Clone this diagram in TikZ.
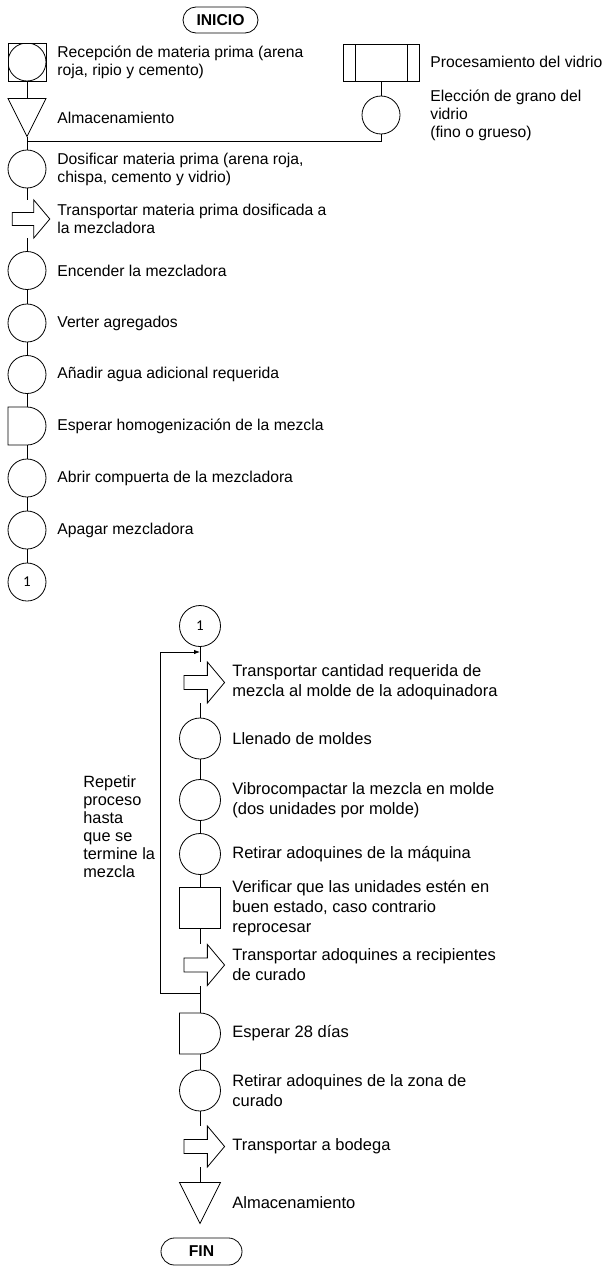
\documentclass[tikz,border=0pt]{standalone}
\usepackage{fontspec}
\setmainfont{Liberation Sans}
\newfontfamily\numfont{Carlito}
\usetikzlibrary{arrows.meta, positioning, shapes.misc}

\tikzset{
  sym/.style={inner sep=0pt, minimum width=2*\hs, minimum height=2*\hs},
  sym op/.style={circle, draw},
  sym ins/.style={rectangle, draw},
  sym opins/.style={rectangle, draw,
    path picture={\draw (path picture bounding box.center) circle[radius=\hs];}},
  sym alm/.style={append after command={\pgfextra{
    \draw[shift={(\tikzlastnode.center)}] (-\hs,-\hs) -- (\hs,-\hs) -- (0,\hs) -- cycle;}}},
  sym esp/.style={append after command={\pgfextra{
    \draw[shift={(\tikzlastnode.center)}] (-\hs,-\hs) -- (0,-\hs)
      arc[start angle=-90, end angle=90, radius=\hs] -- (-\hs,\hs) -- cycle;}}},
  sym tr/.style={append after command={\pgfextra{
    \draw[shift={(\tikzlastnode.center)}] ({-0.78*\hs},{-0.34*\hs}) -- ({0.36*\hs},{-0.34*\hs})
      -- ({0.36*\hs},-\hs) -- ({1.2*\hs},0) -- ({0.36*\hs},\hs) -- ({0.36*\hs},{0.34*\hs})
      -- ({-0.78*\hs},{0.34*\hs}) -- cycle;}}},
  barras/.style={rectangle, draw, inner sep=0pt,
    path picture={\draw ([xshift=12pt]path picture bounding box.north west) -- ([xshift=12pt]path picture bounding box.south west)
      ([xshift=-12pt]path picture bounding box.north east) -- ([xshift=-12pt]path picture bounding box.south east);}},
  txt/.style={anchor=west, align=left, inner sep=0pt},
  term/.style={rounded rectangle, draw, inner sep=0pt, font=\bfseries\fontsize{15.7}{18}\selectfont},
  num/.style={font=\numfont\fontsize{15}{16}\selectfont}
}

\begin{document}
\begin{tikzpicture}[x=1pt, y=-1pt, line width=0.8pt]
  \useasboundingbox (0,0) rectangle (603,1266);

  % primera parte
  \def\hs{19}
  \begin{scope}[font=\fontsize{15.7}{18}\selectfont]
    \node [term, minimum width=75, minimum height=26] (inicio) at (220.5,20) {INICIO};

    \foreach \y/\t/\txt [count=\i] in {
        62/opins/{Recepción de materia prima (arena\\roja, ripio y cemento)},
        117.5/alm/Almacenamiento,
        169/op/{Dosificar materia prima (arena roja,\\chispa, cemento y vidrio)},
        219/tr/{Transportar materia prima dosificada a\\la mezcladora},
        270.5/op/Encender la mezcladora,
        323/op/Verter agregados,
        374.5/op/Añadir agua adicional requerida,
        426/esp/Esperar homogenización de la mezcla,
        478/op/Abrir compuerta de la mezcladora,
        530/op/Apagar mezcladora}
    {
      \node [sym, sym \t/.try] (a-\i) at (27,\y) {};
      \node [txt] (ta-\i) at (57,\y) {\txt};
    }
    \node [sym, sym op, num] (a-11) at (27,582) {1};

    \foreach \i [count=\k from 2] in {1,...,10}
      \draw (a-\i) -- (a-\k);

    % vidrio
    \node [barras, minimum width=76, minimum height=37] (p-1) at (381,62.5) {};
    \node [sym, sym op] (p-2) at (381,115) {};
    \node [txt] (tp-1) at (430,62) {Procesamiento del vidrio};
    \node [txt] (tp-2) at (430,115.5) {Elección de grano del\\vidrio\\(fino o grueso)};
    \coordinate (junta) at (27,141);
    \draw (p-1) -- (p-2);
    \draw (p-2) |- (junta);
  \end{scope}

  % segunda parte
  \def\hs{20.5}
  \begin{scope}[font=\fontsize{16.5}{20}\selectfont]
    \node [sym, sym op, num] (b-1) at (200,626) {1};

    \foreach \y/\t/\txt [count=\i from 2] in {
        682.5/tr/{Transportar cantidad requerida de\\mezcla al molde de la adoquinadora},
        738.5/op/Llenado de moldes,
        800/op/{Vibrocompactar la mezcla en molde\\(dos unidades por molde)},
        854/op/Retirar adoquines de la máquina,
        908/ins/{Verificar que las unidades estén en\\buen estado, caso contrario\\reprocesar},
        965/tr/{Transportar adoquines a recipientes\\de curado},
        1033.5/esp/Esperar 28 días,
        1090.5/op/{Retirar adoquines de la zona de\\curado},
        1146.5/tr/Transportar a bodega,
        1203/alm/Almacenamiento}
    {
      \node [sym, sym \t/.try] (b-\i) at (200,\y) {};
      \node [txt] (tb-\i) at (232,\y) {\txt};
    }

    \foreach \i [count=\k from 2] in {1,...,10}
      \draw (b-\i) -- (b-\k);

    % repetir
    \coordinate (vuelta-in) at (200,652);
    \coordinate (vuelta-out) at (200,993);
    \draw [-{Latex[length=6pt, width=4.5pt]}] (vuelta-out) -- ++(-40,0) |- (vuelta-in);
    \node [txt, font=\fontsize{16.3}{18}\selectfont] (repetir) at (83,827)
      {Repetir\\proceso\\hasta\\que se\\termine la\\mezcla};

    \node [term, minimum width=81, minimum height=27] (fin) at (201.5,1251.5) {FIN};
  \end{scope}
\end{tikzpicture}
\end{document}
